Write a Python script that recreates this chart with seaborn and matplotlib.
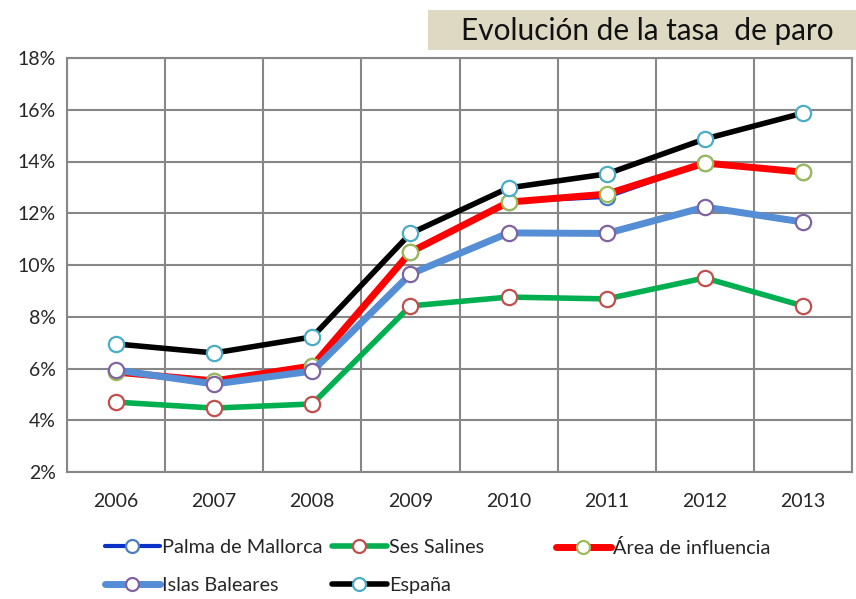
import numpy as np
import pandas as pd
import matplotlib
matplotlib.use('Agg')
import matplotlib.pyplot as plt
from matplotlib.patches import Rectangle
from matplotlib.ticker import FixedLocator, FuncFormatter
import seaborn as sns

years = ["2006", "2007", "2008", "2009", "2010", "2011", "2012", "2013"]
palma = [5.90, 5.52, 6.10, 10.50, 12.45, 12.63, 13.95, 13.60]
ses_salines = [4.70, 4.47, 4.63, 8.42, 8.76, 8.69, 9.50, 8.42]
area_influencia = [5.86, 5.52, 6.10, 10.50, 12.43, 12.74, 13.94, 13.59]
islas_baleares = [5.94, 5.40, 5.90, 9.65, 11.24, 11.22, 12.24, 11.66]
espana = [6.95, 6.60, 7.22, 11.22, 12.98, 13.52, 14.87, 15.87]

series = [
    ("Palma de Mallorca", palma, "#0A32C8", "#4A7EBB", 3.0),
    ("Ses Salines", ses_salines, "#00B050", "#C0504D", 4.0),
    ("Área de influencia", area_influencia, "#FF0000", "#9BBB59", 5.0),
    ("Islas Baleares", islas_baleares, "#558ED5", "#8064A2", 5.0),
    ("España", espana, "#000000", "#4BACC6", 4.0),
]

sns.set_style("white")
plt.rcParams['font.family'] = ['Lato', 'DejaVu Sans']

fig = plt.figure(figsize=(8.56, 5.99), dpi=100)
ax = fig.add_axes([67 / 856, 1 - 472 / 599, 785 / 856, 414 / 599])

grid_col = "#878787"
x = np.arange(len(years))
handles = []
for name, vals, col, edge, lw in series:
    df = pd.DataFrame({"x": x, "y": vals})
    sns.lineplot(data=df, x="x", y="y", ax=ax, color=col, linewidth=lw,
                 marker="o", markersize=11, markerfacecolor="white",
                 markeredgecolor=edge, markeredgewidth=1.6, zorder=3)
    handles.append(ax.lines[-1])

ax.set_xlim(-0.5, len(years) - 0.5)
ax.set_ylim(2, 18)
ax.set_xlabel("")
ax.set_ylabel("")
ax.set_xticks(x)
ax.set_xticklabels(years)
ax.xaxis.set_minor_locator(FixedLocator(np.arange(-0.5, len(years), 1)))
ax.set_yticks(np.arange(2, 19, 2))
ax.yaxis.set_major_formatter(FuncFormatter(lambda v, p: f"{v:.0f}%"))
ax.tick_params(axis="x", which="major", length=0, pad=15, labelsize=14)
ax.tick_params(axis="x", which="minor", length=7, width=1.5, color=grid_col)
ax.tick_params(axis="y", length=5, width=1.5, color=grid_col, pad=3, labelsize=14)
ax.grid(True, axis="y", which="major", color=grid_col, linewidth=1.5)
ax.grid(True, axis="x", which="minor", color=grid_col, linewidth=1.5)
ax.grid(False, axis="x", which="major")
for s in ax.spines.values():
    s.set_color(grid_col)
    s.set_linewidth(1.5)

# legend laid out in three columns like the original
cols = [(105, [0, 3]), (332, [1, 4]), (556, [2])]
for xpix, idx in cols:
    leg = fig.legend([handles[i] for i in idx], [series[i][0] for i in idx],
                     loc="upper left", bbox_to_anchor=(xpix / 856, 1 - 539 / 599),
                     frameon=False, fontsize=14.3, handlelength=2.75,
                     handletextpad=0.12, labelspacing=1.08, borderpad=0,
                     borderaxespad=0, markerscale=0.85)

# title box
fig.patches.append(Rectangle((428 / 856, 1 - 50 / 599), 428 / 856, 40 / 599,
                             transform=fig.transFigure, facecolor="#DDD9C3",
                             edgecolor="none", zorder=0))
fig.text(647 / 856, 1 - 31 / 599, "Evolución de la tasa  de paro",
         ha="center", va="center", fontsize=21.4, color="#111111")

plt.savefig("out.png", dpi=100)
plt.close()
